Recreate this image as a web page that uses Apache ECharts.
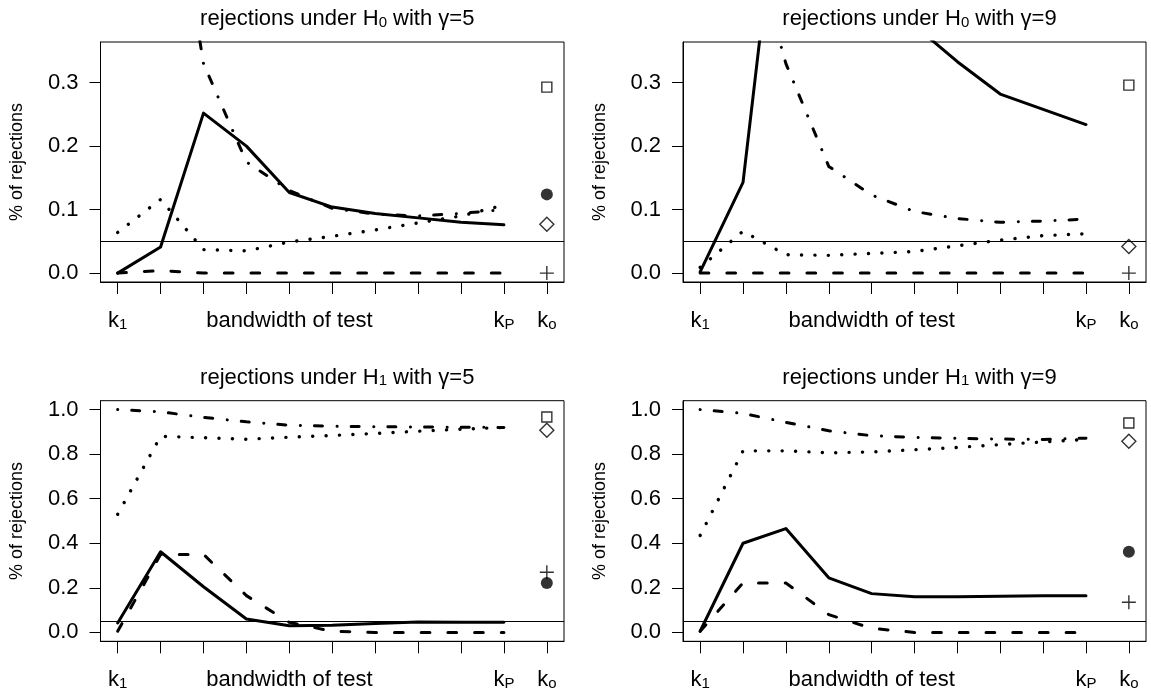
<!DOCTYPE html>
<html>
<head>
<meta charset="utf-8">
<script src="https://cdn.jsdelivr.net/npm/echarts@6/dist/echarts.min.js"></script>
<style>
html,body{margin:0;padding:0;background:#fff;}
#chart{width:1151px;height:696px;}
</style>
</head>
<body>
<div id="chart"></div>
<script>
// ---------- data ----------
const bandwidth = [1, 2, 3, 4, 5, 6, 7, 8, 9, 10];
const koPosition = 11;
const alphaLevel = 0.05;

const xTickPositions = [1, 2, 3, 4, 5, 6, 7, 8, 9, 10, 11];
const xLabelPositions = [1, 5, 10, 11];
const xLabelTexts = ['{m|k}{s|1}', '{m|bandwidth of test}', '{m|k}{s|P}', '{m|k}{s|o}'];
const yTicksH0 = [0, 0.1, 0.2, 0.3];
const yTicksH1 = [0, 0.2, 0.4, 0.6, 0.8, 1.0];

const panelTitles = [
  '{m|rejections under H}{s|0}{m| with γ=5}',
  '{m|rejections under H}{s|0}{m| with γ=9}',
  '{m|rejections under H}{s|1}{m| with γ=5}',
  '{m|rejections under H}{s|1}{m| with γ=9}'
];

// H0, gamma = 5
const h0g5Solid   = [0.000, 0.041, 0.252, 0.200, 0.127, 0.104, 0.094, 0.087, 0.080, 0.076];
const h0g5Dashed  = [0.000, 0.004, 0.000, 0.000, 0.000, 0.000, 0.000, 0.000, 0.000, 0.000];
const h0g5DotDash = [0.950, 0.750, 0.330, 0.175, 0.130, 0.102, 0.093, 0.090, 0.094, 0.100];
const h0g5Dotted  = [0.064, 0.116, 0.037, 0.035, 0.049, 0.058, 0.068, 0.079, 0.090, 0.107];

// H0, gamma = 9
const h0g9Solid   = [0.002, 0.143, 0.720, 0.580, 0.460, 0.390, 0.333, 0.282, 0.258, 0.234];
const h0g9Dashed  = [0.000, 0.000, 0.000, 0.000, 0.000, 0.000, 0.000, 0.000, 0.000, 0.000];
const h0g9DotDash = [0.800, 0.570, 0.330, 0.168, 0.123, 0.097, 0.086, 0.080, 0.082, 0.085];
const h0g9Dotted  = [0.009, 0.066, 0.029, 0.028, 0.031, 0.034, 0.043, 0.052, 0.059, 0.062];

// H1, gamma = 5
const h1g5Solid   = [0.042, 0.362, 0.205, 0.060, 0.030, 0.032, 0.040, 0.047, 0.046, 0.045];
const h1g5Dashed  = [0.005, 0.350, 0.350, 0.165, 0.045, 0.005, 0.000, 0.000, 0.000, 0.000];
const h1g5DotDash = [1.000, 0.990, 0.965, 0.945, 0.930, 0.925, 0.923, 0.922, 0.921, 0.920];
const h1g5Dotted  = [0.530, 0.880, 0.874, 0.867, 0.876, 0.884, 0.893, 0.903, 0.912, 0.920];

// H1, gamma = 9
const h1g9Solid   = [0.005, 0.400, 0.466, 0.245, 0.174, 0.160, 0.160, 0.162, 0.165, 0.165];
const h1g9Dashed  = [0.005, 0.222, 0.222, 0.080, 0.018, 0.000, 0.000, 0.000, 0.000, 0.000];
const h1g9DotDash = [1.000, 0.983, 0.943, 0.905, 0.883, 0.875, 0.871, 0.868, 0.866, 0.872];
const h1g9Dotted  = [0.435, 0.815, 0.815, 0.806, 0.810, 0.820, 0.830, 0.843, 0.855, 0.866];

// values at k_o (one per panel: H0g5, H0g9, H1g5, H1g9)
const koSquare  = [0.293, 0.296, 0.967, 0.940];
const koCircle  = [0.124, 0.500, 0.222, 0.362];
const koDiamond = [0.077, 0.042, 0.907, 0.858];
const koPlus    = [0.000, 0.000, 0.270, 0.135];

// ---------- layout ----------
const FONT = "'Liberation Sans', Arial, Helvetica, sans-serif";
const grids = [
  {left: 100.5, top: 42,    width: 463.5, height: 240},
  {left: 683,   top: 42,    width: 463,   height: 240},
  {left: 100.5, top: 400.7, width: 463.5, height: 240.6},
  {left: 683,   top: 400.7, width: 463,   height: 240.6}
];
const yRanges = [[-0.014, 0.364], [-0.014, 0.364], [-0.04, 1.04], [-0.04, 1.04]];
const yTickSets = [yTicksH0, yTicksH0, yTicksH1, yTicksH1];
const panelData = [
  [h0g5Solid, h0g5Dashed, h0g5DotDash, h0g5Dotted],
  [h0g9Solid, h0g9Dashed, h0g9DotDash, h0g9Dotted],
  [h1g5Solid, h1g5Dashed, h1g5DotDash, h1g5Dotted],
  [h1g9Solid, h1g9Dashed, h1g9DotDash, h1g9Dotted]
];

const richMain = {
  m: {fontSize: 22, fontFamily: FONT, fontWeight: 'normal', color: '#000', lineHeight: 26, verticalAlign: 'bottom'},
  s: {fontSize: 15, fontFamily: FONT, fontWeight: 'normal', color: '#000', lineHeight: 14, verticalAlign: 'bottom'}
};
const richTitle = {
  m: {fontSize: 22, fontFamily: FONT, fontWeight: 'normal', color: '#000', lineHeight: 26, verticalAlign: 'bottom'},
  s: {fontSize: 15, fontFamily: FONT, fontWeight: 'normal', color: '#000', lineHeight: 13, verticalAlign: 'bottom'}
};

const lineStyles = [
  {color: '#000', width: 3, type: 'solid', cap: 'round', join: 'round'},
  {color: '#000', width: 3, type: [8.7, 18], cap: 'round', join: 'round'},
  {color: '#000', width: 3, type: [0.1, 14, 8, 14.6], cap: 'round', join: 'round'},
  {color: '#000', width: 3.4, type: [0.1, 13.3], cap: 'round', join: 'round'}
];
const lineNames = ['solid', 'dashed', 'dotdash', 'dotted'];

const option = {
  animation: false,
  backgroundColor: '#fff',
  title: [], grid: [], xAxis: [], yAxis: [], series: []
};

grids.forEach((g, i) => {
  option.grid.push({
    left: g.left, top: g.top, width: g.width, height: g.height,
    show: true, borderColor: '#000', borderWidth: 1, backgroundColor: 'transparent',
    containLabel: false
  });
  option.title.push({
    text: panelTitles[i],
    left: g.left + g.width / 2,
    textAlign: 'center',
    top: g.top - 43,
    textStyle: {fontWeight: 'normal', fontSize: 22, fontFamily: FONT, rich: richTitle}
  });
  option.xAxis.push({
    type: 'value', gridIndex: i, min: 0.6, max: 11.4,
    axisLine: {show: true, onZero: false, lineStyle: {color: '#000', width: 1}},
    axisTick: {show: true, length: 12, customValues: xTickPositions, lineStyle: {color: '#000', width: 1}},
    axisLabel: {
      show: true, margin: 24, customValues: xLabelPositions,
      formatter: v => xLabelTexts[xLabelPositions.indexOf(Math.round(v))] || '',
      rich: richMain
    },
    splitLine: {show: false}
  });
  option.yAxis.push({
    type: 'value', gridIndex: i, min: yRanges[i][0], max: yRanges[i][1],
    name: '% of rejections', nameLocation: 'middle', nameGap: 74, nameRotate: 90,
    nameTextStyle: {fontSize: 18, fontFamily: FONT, color: '#000'},
    axisLine: {show: true, onZero: false, lineStyle: {color: '#000', width: 1}},
    axisTick: {show: true, length: 11, customValues: yTickSets[i], lineStyle: {color: '#000', width: 1}},
    axisLabel: {
      show: true, margin: 22, customValues: yTickSets[i],
      formatter: v => v.toFixed(1),
      fontSize: 22, fontFamily: FONT, color: '#000'
    },
    splitLine: {show: false}
  });
  panelData[i].forEach((vals, k) => {
    const s = {
      name: lineNames[k], type: 'line', xAxisIndex: i, yAxisIndex: i,
      data: bandwidth.map((b, j) => [b, vals[j]]),
      showSymbol: false, symbol: 'none', clip: true, silent: true,
      lineStyle: lineStyles[k], z: 3
    };
    if (k === 0) {
      s.markLine = {
        silent: true, symbol: 'none', label: {show: false},
        lineStyle: {color: '#000', width: 1, type: 'solid'},
        data: [{yAxis: alphaLevel}]
      };
    }
    option.series.push(s);
  });
  const common = {type: 'scatter', xAxisIndex: i, yAxisIndex: i, clip: true, silent: true, z: 4};
  option.series.push(Object.assign({}, common, {
    name: 'ko square', data: [[koPosition, koSquare[i]]], symbol: 'rect', symbolSize: 10,
    itemStyle: {color: '#fff', borderColor: '#000', borderWidth: 1.4}
  }));
  option.series.push(Object.assign({}, common, {
    name: 'ko circle', data: [[koPosition, koCircle[i]]], symbol: 'circle', symbolSize: 12,
    itemStyle: {color: '#000', borderColor: '#000', borderWidth: 0}
  }));
  option.series.push(Object.assign({}, common, {
    name: 'ko diamond', data: [[koPosition, koDiamond[i]]], symbol: 'diamond', symbolSize: 14,
    itemStyle: {color: '#fff', borderColor: '#000', borderWidth: 1.4}
  }));
  option.series.push(Object.assign({}, common, {
    name: 'ko plus', data: [[koPosition, koPlus[i]]], symbol: 'path://M7,0L7,14M0,7L14,7', symbolSize: 14,
    itemStyle: {color: 'none', borderColor: '#000', borderWidth: 1.4}
  }));
});

const chart = echarts.init(document.getElementById('chart'), null, {renderer: 'canvas'});
chart.setOption(option);
</script>
</body>
</html>
